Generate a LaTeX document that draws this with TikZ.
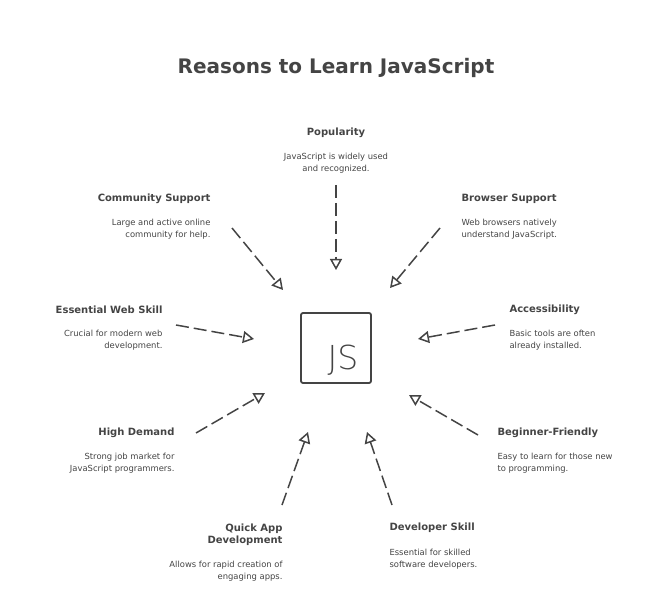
\documentclass[tikz,border=0pt]{standalone}
\usepackage{fontspec}
\setmainfont{DejaVu Sans}
\newfontfamily\thinfont{DejaVu Sans ExtraLight}
\usetikzlibrary{arrows.meta}
\definecolor{ink}{HTML}{444444}

\begin{document}
\begin{tikzpicture}[x=1pt, y=-1pt, every node/.style={text=ink},
  head/.style={font=\fontsize{10}{12}\selectfont\bfseries},
  desc/.style={font=\fontsize{8.4}{12}\selectfont},
  link/.style={draw=ink, line width=1.5pt, dash pattern=on 13pt off 5pt,
    -{Triangle[open, length=11pt, width=12pt, line width=1.5pt]}}]
\useasboundingbox (0,0) rectangle (672,612);

% Title
\node[font=\fontsize{20}{22}\selectfont\bfseries] (title) at (336,68) {Reasons to Learn JavaScript};

% Centre
\node[draw=ink, line width=1.8pt, rounded corners=2pt, minimum size=70pt, inner sep=0pt] (js) at (336,348) {};
\node[font=\fontsize{33}{34}\thinfont] (jstxt) at (343,360) {JS};

% Top
\node[head] (pop) at (336,133) {Popularity};
\node[desc, align=center] (popd) at (336,163) {JavaScript is widely used\\and recognized.};

% Left side
\node[head, anchor=east] (com) at (214,199) {Community Support};
\node[desc, align=right, anchor=east] (comd) at (214,229) {Large and active online\\community for help.};
\node[head, anchor=east] (ess) at (166,310) {Essential Web Skill};
\node[desc, align=right, anchor=east] (essd) at (166,340) {Crucial for modern web\\development.};
\node[head, anchor=east] (hig) at (178,433) {High Demand};
\node[desc, align=right, anchor=east] (higd) at (178,463) {Strong job market for\\JavaScript programmers.};
\node[head, align=right, anchor=east] (qui) at (286,535) {Quick App\\Development};
\node[desc, align=right, anchor=east] (quid) at (286,571) {Allows for rapid creation of\\engaging apps.};

% Right side
\node[head, anchor=west] (bro) at (458,199) {Browser Support};
\node[desc, align=left, anchor=west] (brod) at (458,229) {Web browsers natively\\understand JavaScript.};
\node[head, anchor=west] (acc) at (506,310) {Accessibility};
\node[desc, align=left, anchor=west] (accd) at (506,340) {Basic tools are often\\already installed.};
\node[head, anchor=west] (beg) at (494,433) {Beginner-Friendly};
\node[desc, align=left, anchor=west] (begd) at (494,463) {Easy to learn for those new\\to programming.};
\node[head, anchor=west] (dev) at (386,528) {Developer Skill};
\node[desc, align=left, anchor=west] (devd) at (386,559) {Essential for skilled\\software developers.};

% Arrow ends
\coordinate (p0) at (336,185); \coordinate (p1) at (336,270);
\coordinate (b0) at (440,228); \coordinate (b1) at (390,288);
\coordinate (c0) at (232,228); \coordinate (c1) at (283,290);
\coordinate (e0) at (176,325); \coordinate (e1) at (254,339);
\coordinate (a0) at (495,325); \coordinate (a1) at (418,339);
\coordinate (h0) at (196,433); \coordinate (h1) at (265,393);
\coordinate (g0) at (478,435); \coordinate (g1) at (409,395);
\coordinate (q0) at (282,505); \coordinate (q1) at (308,432);
\coordinate (d0) at (392,505); \coordinate (d1) at (367,432);

% Arrows
\foreach \k in {p,b,c,e,a,h,g,q,d}
  \draw[link] (\k0) -- (\k1);
\end{tikzpicture}
\end{document}
